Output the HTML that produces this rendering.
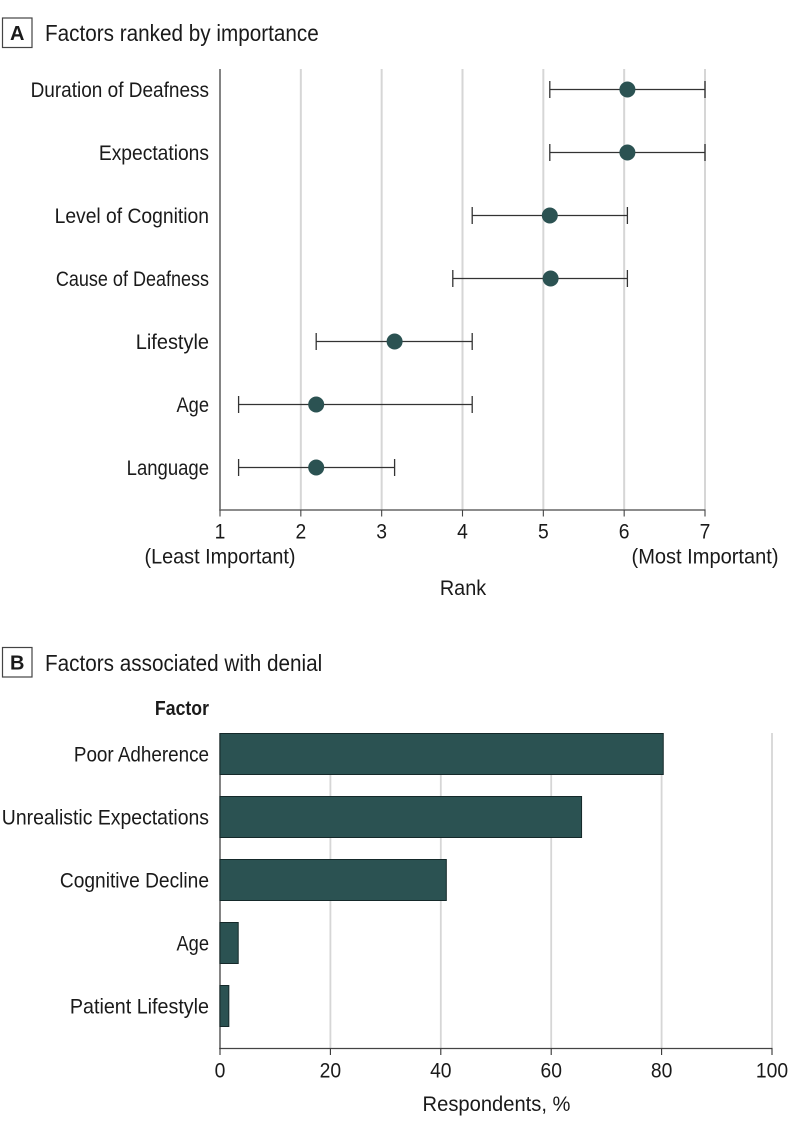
<!DOCTYPE html>
<html lang="en">
<head>
<meta charset="utf-8">
<title>Factors ranked by importance and factors associated with denial</title>
<style>
html,body{margin:0;padding:0;background:#fff;}
svg{display:block;}
text{font-family:"Liberation Sans",sans-serif;fill:#1a1a1a;}
</style>
</head>
<body>
<svg id="chart" xmlns="http://www.w3.org/2000/svg" width="794" height="1133" viewBox="0 0 794 1133"></svg>
<script>
// Panel A data
const rankFactors = ['Duration of Deafness','Expectations','Level of Cognition','Cause of Deafness','Lifestyle','Age','Language'];
const rankMedian = [6.04,6.04,5.08,5.09,3.16,2.19,2.19];
const rankLow = [5.08,5.08,4.12,3.88,2.19,1.23,1.23];
const rankHigh = [7,7,6.04,6.04,4.12,4.12,3.16];
const rankTicks = [1,2,3,4,5,6,7];
// Panel B data
const denialFactors = ['Poor Adherence','Unrealistic Expectations','Cognitive Decline','Age','Patient Lifestyle'];
const denialValues = [80.3,65.5,41,3.3,1.6];
const denialTicks = [0,20,40,60,80,100];

const svg = document.getElementById('chart');
const NS = 'http://www.w3.org/2000/svg';
const FS = 21, SX = 0.925;
// Horizontal glyph fit per label, to approximate the condensed reference typeface
const labelFit = {
  'Duration of Deafness':0.905,'Expectations':0.917,'Level of Cognition':0.919,
  'Cause of Deafness':0.858,'Lifestyle':0.951,'Age':0.87,'Language':0.882,
  'Poor Adherence':0.898,'Unrealistic Expectations':0.925,'Cognitive Decline':0.913,
  'Patient Lifestyle':0.939
};

function el(tag, attrs, parent){
  const e = document.createElementNS(NS, tag);
  for (const k in attrs) e.setAttribute(k, attrs[k]);
  (parent || svg).appendChild(e);
  return e;
}
function label(str, x, y, anchor, name, bold, size, sx){
  const t = el('text', {
    transform: 'translate(' + x + ',' + y + ') scale(' + (sx || SX) + ',1)',
    'text-anchor': anchor,
    'font-size': size || FS,
    'font-weight': bold ? 'bold' : 'normal'
  });
  t.textContent = str;
  
  
  return t;
}
function slug(s){ return s.toLowerCase().replace(/[^a-z0-9]+/g, '-'); }

// Panel A axes
const ax = v => 220 + (v - 1) * (705 - 220) / 6;
const aTop = 69, aBase = 510, aFirst = 89.5, aStep = 63;
const ay = i => aFirst + i * aStep;

function panelHeader(letter, title, boxY, baseY){
  const b = el('rect', {x:2.5, y:boxY, width:29.5, height:29.5, fill:'#fff', stroke:'#444', 'stroke-width':1.2});
  
  
  label(letter, 17.2, boxY + 22, 'middle', 'panel-' + letter.toLowerCase() + '-letter', true, 20, 1);
  label(title, 45, baseY, 'start', 'panel-' + letter.toLowerCase() + '-title', false, 23, 0.9);
}

panelHeader('A', 'Factors ranked by importance', 18, 41);
panelHeader('B', 'Factors associated with denial', 647.5, 671);

rankTicks.forEach(t => {
  if (t > 1) {
    const g = el('line', {x1:ax(t), x2:ax(t), y1:aTop, y2:aBase, stroke:'#d6d6d6', 'stroke-width':2});
    
    
  }
});
const aYAxis = el('line', {x1:220, x2:220, y1:aTop, y2:aBase, stroke:'#666', 'stroke-width':1.6});


const aXAxis = el('line', {x1:219.2, x2:ax(7) + 0.5, y1:aBase, y2:aBase, stroke:'#666', 'stroke-width':1.6});


rankTicks.forEach(t => {
  const k = el('line', {x1:ax(t), x2:ax(t), y1:aBase, y2:516.5, stroke:'#444', 'stroke-width':1.1});
  
  
  label(String(t), ax(t), 538.5, 'middle', 'rank-tick-label-' + t, false, FS, 0.92);
});
label('(Least Important)', 220, 563.5, 'middle', 'least-important-label', false, FS, 0.945);
label('(Most Important)', 705, 563.5, 'middle', 'most-important-label', false, FS, 0.955);
label('Rank', 463, 595, 'middle', 'rank-axis-title', false, FS, 0.945);

rankFactors.forEach((f, i) => {
  const y = ay(i), s = slug(f);
  label(f, 209, y + 7.3, 'end', 'rank-label-' + s, false, FS, labelFit[f]);
  const g = el('g', {stroke:'#333', 'stroke-width':1.3});
  
  
  el('line', {x1:ax(rankLow[i]), x2:ax(rankHigh[i]), y1:y, y2:y}, g);
  el('line', {x1:ax(rankLow[i]), x2:ax(rankLow[i]), y1:y - 8.5, y2:y + 8.5}, g);
  el('line', {x1:ax(rankHigh[i]), x2:ax(rankHigh[i]), y1:y - 8.5, y2:y + 8.5}, g);
  const c = el('circle', {cx:ax(rankMedian[i]), cy:y, r:8, fill:'#2b5252'});
  
  
});

// Panel B axes
const bx = v => 220 + v * (772 - 220) / 100;
const bTop = 733, bBase = 1048.5, bFirst = 733.5, bStep = 63, bH = 41;
const by = i => bFirst + i * bStep;

denialTicks.forEach(t => {
  if (t > 0) {
    const g = el('line', {x1:bx(t), x2:bx(t), y1:bTop, y2:bBase, stroke:'#d6d6d6', 'stroke-width':1.8});
    
    
  }
});
const bYAxis = el('line', {x1:220, x2:220, y1:bTop, y2:bBase, stroke:'#666', 'stroke-width':1.6});



denialFactors.forEach((f, i) => {
  const s = slug(f);
  const r = el('rect', {x:bx(0), y:by(i), width:bx(denialValues[i]) - bx(0), height:bH, fill:'#2b5252', stroke:'#15292a', 'stroke-width':1});
  
  
  label(f, 209, by(i) + bH / 2 + 7.3, 'end', 'denial-label-' + s, false, FS, labelFit[f]);
});

const bXAxis = el('line', {x1:219.2, x2:bx(100) + 0.5, y1:bBase, y2:bBase, stroke:'#444', 'stroke-width':1.3});


denialTicks.forEach(t => {
  const k = el('line', {x1:bx(t), x2:bx(t), y1:bBase, y2:1055, stroke:'#333', 'stroke-width':1.1});
  
  
  label(String(t), bx(t), 1077.5, 'middle', 'respondents-tick-label-' + t, false, FS, 0.92);
});
label('Factor', 209, 715, 'end', 'factor-column-header', true, 20, 0.885);
label('Respondents, %', 496.5, 1111, 'middle', 'respondents-axis-title', false, FS, 0.96);
</script>
</body>
</html>
